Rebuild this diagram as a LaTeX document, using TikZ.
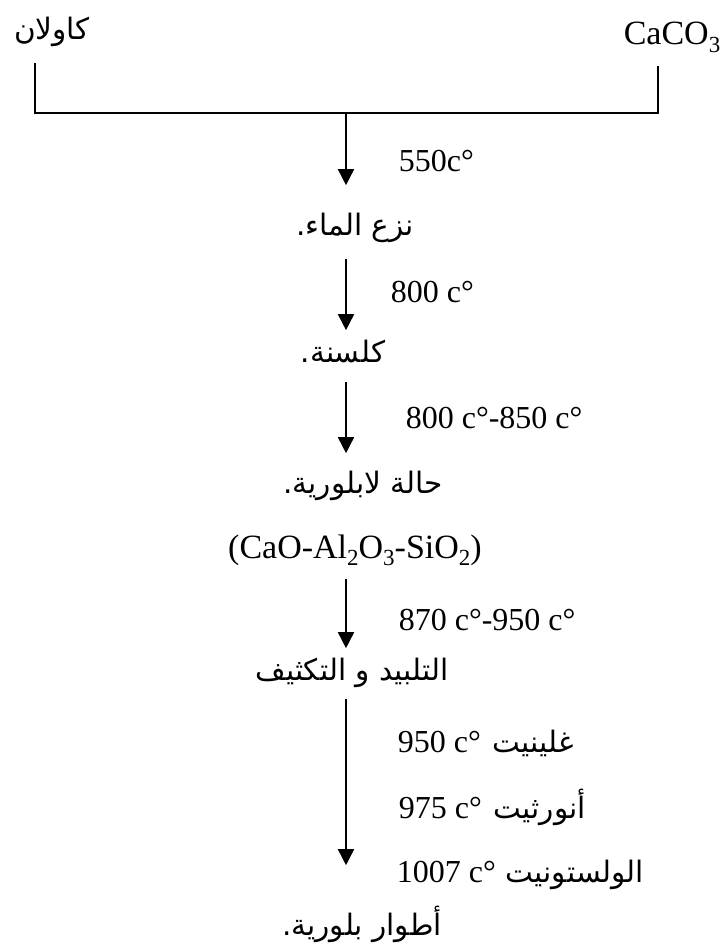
\documentclass[tikz,border=0pt]{standalone}
\usepackage{fontspec}
\setmainfont{Liberation Serif}
\newfontfamily\arabicfont[Script=Arabic]{DejaVu Sans}
\TeXXeTstate=1
\usetikzlibrary{arrows.meta}

% Arabic run, right to left
\newcommand\artxt[1]{{\arabicfont\fontsize{29.5}{34}\selectfont\beginR #1\endR}}
% Latin text in the serif face
\newcommand\lattxt[1]{{\fontsize{32}{36}\selectfont #1}}
\newcommand\chemtxt[1]{{\fontsize{34}{38}\selectfont #1}}
\newcommand\lowsub[1]{\raisebox{-0.22em}{\fontsize{23}{26}\selectfont #1}}

\begin{document}
\begin{tikzpicture}[x=1pt,y=-1pt,
  line width=1.6pt,
  flow/.style={-{Triangle[length=16pt,width=16pt]}},
  stage/.style={inner sep=0pt,anchor=base},
  temp/.style={inner sep=0pt,anchor=base west}]
\useasboundingbox (0,0) rectangle (727,949);

% starting materials
\node[stage,text depth=22pt] (ka) at (52,40) {\artxt{كاولان}};
\node[stage,text depth=20pt] (ca) at (672,45) {\chemtxt{CaCO\lowsub{3}}};

\coordinate (jl) at (35,113);
\coordinate (jr) at (658,113);
\coordinate (jn) at (346,113);

% process stages
\node[stage,text height=50pt,text depth=22pt] (n1) at (355,236) {\artxt{نزع الماء.}};
\node[stage,text height=31pt,text depth=19pt] (n2) at (343,362) {\artxt{كلسنة.}};
\node[stage,text height=39pt] (n3a) at (363,493) {\artxt{حالة لابلورية.}};
\node[stage,text depth=20pt] (n3b) at (355,558) {\chemtxt{(CaO-Al\lowsub{2}O\lowsub{3}-SiO\lowsub{2})}};
\node[stage,text height=31pt,text depth=18pt] (n4) at (352,680) {\artxt{التلبيد و التكثيف}};
\node[stage,text height=69pt] (n5) at (362,935) {\artxt{أطوار بلورية.}};

% temperatures
\node[temp] (t1) at (398,172) {\lattxt{550c°}};
\node[temp] (t2) at (390,302) {\lattxt{800 c°}};
\node[temp] (t3) at (405,428) {\lattxt{800 c°-850 c°}};
\node[temp] (t4) at (398,630) {\lattxt{870 c°-950 c°}};
\node[temp] (t5) at (397,752) {\lattxt{950 c°}\hspace{12pt}\artxt{غلينيت}};
\node[temp] (t6) at (398,818) {\lattxt{975 c°}\hspace{12pt}\artxt{أنورثيت}};
\node[temp] (t7) at (396,882) {\lattxt{1007 c°}\hspace{10pt}\artxt{الولستونيت}};

% connectors
\draw (ka.south -| jl) -- (jl) -- (jr) -- (ca.south -| jr);
\draw[flow] (jn) -- (n1.north -| jn);
\draw[flow] (n1.south -| jn) -- (n2.north -| jn);
\draw[flow] (n2.south -| jn) -- (n3a.north -| jn);
\draw[flow] (n3b.south -| jn) -- (n4.north -| jn);
\draw[flow] (n4.south -| jn) -- (n5.north -| jn);
\end{tikzpicture}
\end{document}
